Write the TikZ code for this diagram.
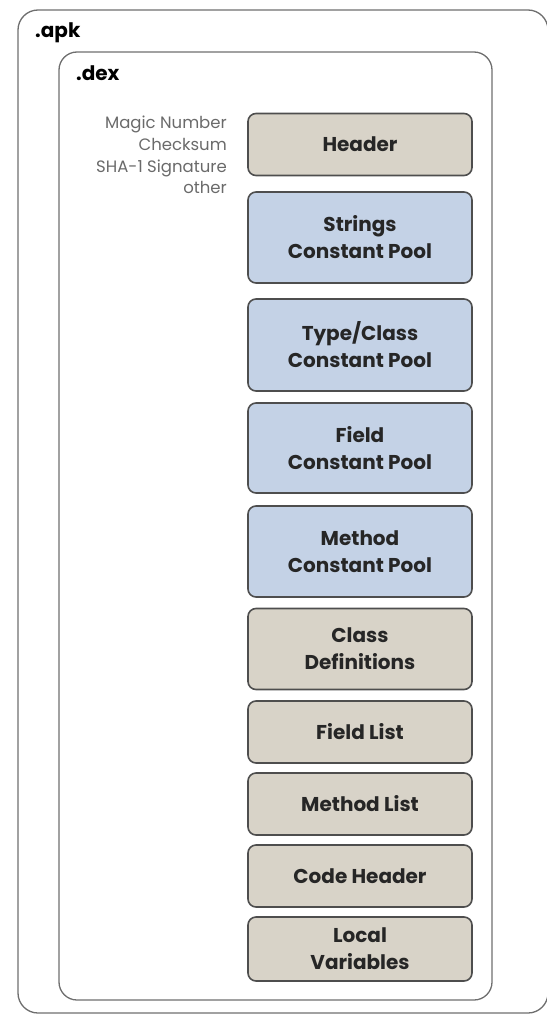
\documentclass[tikz,border=0pt]{standalone}
\usepackage{fontspec}
\setmainfont{Poppins}
\usetikzlibrary{positioning}
\definecolor{tanfill}{HTML}{D8D3C8}
\definecolor{poolfill}{HTML}{C4D2E6}
\definecolor{boxline}{HTML}{4E4E4E}
\definecolor{framegray}{HTML}{6E6E6E}
\definecolor{notegray}{HTML}{6A6A6A}

\begin{document}
\begin{tikzpicture}[x=1pt, y=-1pt,
    part/.style={draw=boxline, line width=1.6pt, rounded corners=8pt,
      minimum width=224pt, inner sep=0pt, align=center, text=black!85,
      font=\bfseries\fontsize{20}{27}\selectfont},
    tanpart/.style={part, fill=tanfill},
    poolpart/.style={part, fill=poolfill},
    frametitle/.style={anchor=base west, inner sep=0pt, font=\bfseries\fontsize{20}{24}\selectfont}]
  \useasboundingbox (0,0) rectangle (546,1017);
  % containers
  \draw[framegray, line width=1.3pt, rounded corners=20pt] (18,10) rectangle (548,1013);
  \draw[framegray, line width=1.3pt, rounded corners=18pt] (59,52) rectangle (492,1000);
  \node[frametitle] (apk) at (35,37) {.apk};
  \node[frametitle] (dex) at (76,80) {.dex};
  % dex sections
  \node[tanpart, minimum height=62pt] (header) at (360,144.5) {Header};
  \node[poolpart, minimum height=91pt] (strings) at (360,237.5) {Strings\\Constant Pool};
  \node[poolpart, minimum height=92pt] (types) at (360,345) {Type/Class\\Constant Pool};
  \node[poolpart, minimum height=90pt] (fields) at (360,448) {Field\\Constant Pool};
  \node[poolpart, minimum height=91pt] (methods) at (360,551.5) {Method\\Constant Pool};
  \node[tanpart, minimum height=81pt] (classdefs) at (360,649) {Class\\Definitions};
  \node[tanpart, minimum height=62pt] (fieldlist) at (360,732) {Field List};
  \node[tanpart, minimum height=62pt] (methodlist) at (360,804) {Method List};
  \node[tanpart, minimum height=62pt] (codeheader) at (360,876) {Code Header};
  \node[tanpart, minimum height=64pt] (locals) at (360,949) {Local\\Variables};
  % header contents
  \node[anchor=north east, align=right, text=notegray, inner sep=0pt,
    font=\fontsize{16.5}{21.7}\selectfont] (headernote) at (227,116)
    {Magic Number\\Checksum\\SHA-1 Signature\\other};
\end{tikzpicture}
\end{document}
